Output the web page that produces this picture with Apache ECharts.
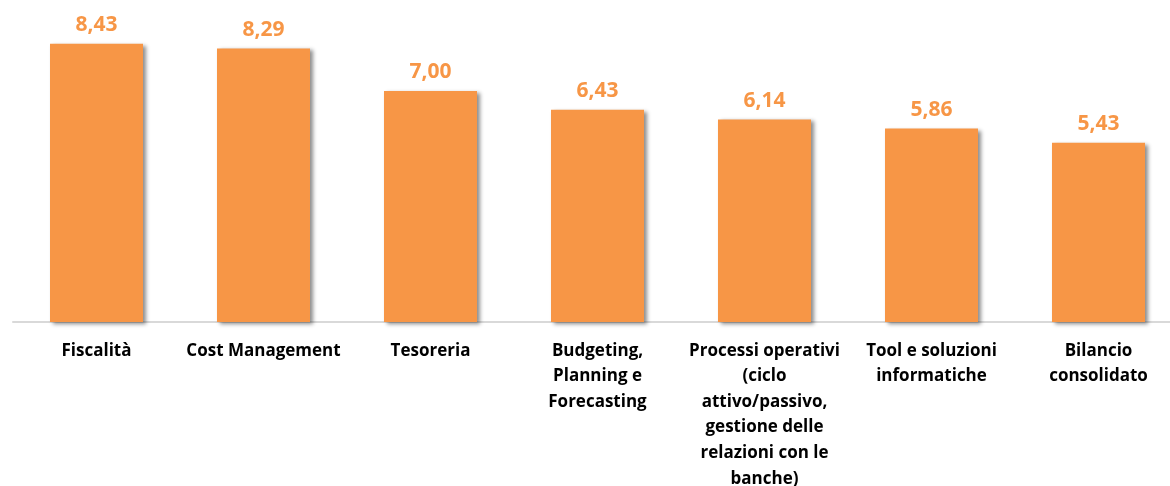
<!DOCTYPE html>
<html>
<head>
<meta charset="utf-8">
<script src="https://cdn.jsdelivr.net/npm/echarts@6/dist/echarts.min.js"></script>
<style>
  html, body { margin: 0; padding: 0; background: #ffffff; overflow: hidden; }
  #chart { width: 1170px; height: 486px; }
</style>
</head>
<body>
<div id="chart"></div>
<script>
// categorie (a capo come nel grafico originale)
var categories = [
  'Fiscalità',
  'Cost Management',
  'Tesoreria',
  'Budgeting,\nPlanning e\nForecasting',
  'Processi operativi\n(ciclo\nattivo/passivo,\ngestione delle\nrelazioni con le\nbanche)',
  'Tool e soluzioni\ninformatiche',
  'Bilancio\nconsolidato'
]
var values = [8.43, 8.29, 7.00, 6.43, 6.14, 5.86, 5.43]

var myChart = echarts.init(document.getElementById('chart'))
var option = {
  animation: false,
  grid: {
    top: 25,
    left: 13,
    width: 1169,
    bottom: 164,
    containLabel: false,
    outerBoundsMode: 'none'
  },
  xAxis: {
    type: 'category',
    data: categories,
    axisTick: { show: false },
    axisLine: { show: true, lineStyle: { color: '#d9d9d9', width: 2 } },
    axisLabel: {
      interval: 0,
      margin: 16,
      color: '#000000',
      fontFamily: 'Open Sans',
      fontWeight: 'bold',
      fontSize: 17,
      lineHeight: 25.6
    }
  },
  yAxis: {
    type: 'value',
    min: 0,
    max: 9,
    show: false,
    splitLine: { show: false }
  },
  series: [
    {
      type: 'bar',
      data: values,
      barWidth: 93,
      itemStyle: {
        color: '#f79646',
        shadowColor: 'rgba(0, 0, 0, 0.45)',
        shadowBlur: 4,
        shadowOffsetX: 3,
        shadowOffsetY: 2
      },
      label: {
        show: true,
        position: 'top',
        distance: 8,
        color: '#f79646',
        fontFamily: 'Open Sans',
        fontWeight: 'bold',
        fontSize: 21,
        formatter: function (p) {
          return p.value.toFixed(2).replace('.', ',')
        }
      }
    }
  ]
}
myChart.setOption(option)
</script>
</body>
</html>
